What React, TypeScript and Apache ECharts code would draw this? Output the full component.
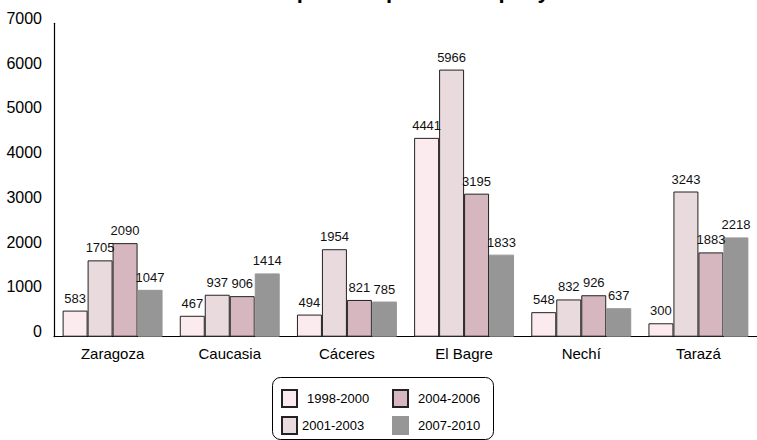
import React, { useEffect, useRef } from "react";
import * as echarts from "echarts";

const FONT = "'Liberation Sans', Arial, Helvetica, sans-serif";

const categories = ["Zaragoza", "Caucasia", "Cáceres", "El Bagre", "Nechí", "Tarazá"];
const periods = ["1998-2000", "2001-2003", "2004-2006", "2007-2010"];
const v1998 = [583, 467, 494, 4441, 548, 300];
const v2001 = [1705, 937, 1954, 5966, 832, 3243];
const v2004 = [2090, 906, 821, 3195, 926, 1883];
const v2007 = [1047, 1414, 785, 1833, 637, 2218];
const yTicks = [0, 1000, 2000, 3000, 4000, 5000, 6000, 7000];

const fills = ["#fcebee", "#e9dade", "#d6b6bf", "#969696"];
const borders = ["#222222", "#222222", "#222222", "#969696"];

export default function App() {
  const ref = useRef<HTMLDivElement>(null);

  useEffect(() => {
    if (!ref.current) return;
    const chart = echarts.init(ref.current, null, { renderer: "svg" });
    const values = [v1998, v2001, v2004, v2007];

    // one legend per entry so each swatch sits in its own cell of the 2x2 box
    const legendCells = [
      { name: periods[0], left: 281, top: 389, gap: 5 },
      { name: periods[2], left: 392, top: 389, gap: 5 },
      { name: periods[1], left: 281, top: 416, gap: 0 },
      { name: periods[3], left: 392, top: 416, gap: 5 },
    ];

    chart.setOption({
      animation: false,
      backgroundColor: "#ffffff",
      title: {
        text: "Población expulsada por municipio y año",
        left: 161,
        top: -21,
        padding: 0,
        textStyle: { fontFamily: FONT, fontSize: 22, fontWeight: "bold", color: "#000" },
      },
      grid: { left: 54, right: 0, top: 23.3, bottom: 103.3, containLabel: false },
      legend: legendCells.map((c) => ({
        data: [c.name],
        left: c.left,
        top: c.top,
        padding: 0,
        orient: "horizontal",
        itemWidth: 15,
        itemHeight: 17,
        selectedMode: false,
        icon: "rect",
        textStyle: {
          fontFamily: FONT,
          fontSize: 13,
          color: "#000",
          padding: [0, 0, 0, c.gap],
        },
      })),
      xAxis: {
        type: "category",
        data: categories,
        axisLine: { show: true, lineStyle: { color: "#000", width: 1.2 } },
        axisTick: { show: false },
        axisLabel: { fontFamily: FONT, fontSize: 15, color: "#000", margin: 9 },
      },
      yAxis: {
        type: "value",
        min: yTicks[0],
        max: yTicks[yTicks.length - 1],
        interval: 1000,
        axisLine: { show: true, lineStyle: { color: "#000", width: 1.2 } },
        axisTick: { show: false },
        splitLine: { show: false },
        axisLabel: {
          fontFamily: FONT,
          fontSize: 16,
          color: "#000",
          margin: 12,
          verticalAlign: "bottom",
          lineHeight: 10,
          formatter: (v: number) => String(v),
        },
      },
      graphic: [
        {
          type: "rect",
          shape: { x: 272.5, y: 377.5, width: 221, height: 62, r: 8 },
          style: { fill: "none", stroke: "#000", lineWidth: 1 },
          silent: true,
          z: 10,
        },
      ],
      series: periods.map((name, i) => ({
        name,
        type: "bar",
        data: values[i],
        barGap: "0%",
        barCategoryGap: "14.7%",
        itemStyle: { color: fills[i], borderColor: borders[i], borderWidth: 1 },
        label: {
          show: true,
          position: "top",
          distance: 6,
          fontFamily: FONT,
          fontSize: 13,
          color: "#111",
        },
      })),
    });

    return () => chart.dispose();
  }, []);

  return (
    <div
      ref={ref}
      style={{ position: "fixed", left: 0, top: 0, width: 757, height: 440 }}
    />
  );
}
